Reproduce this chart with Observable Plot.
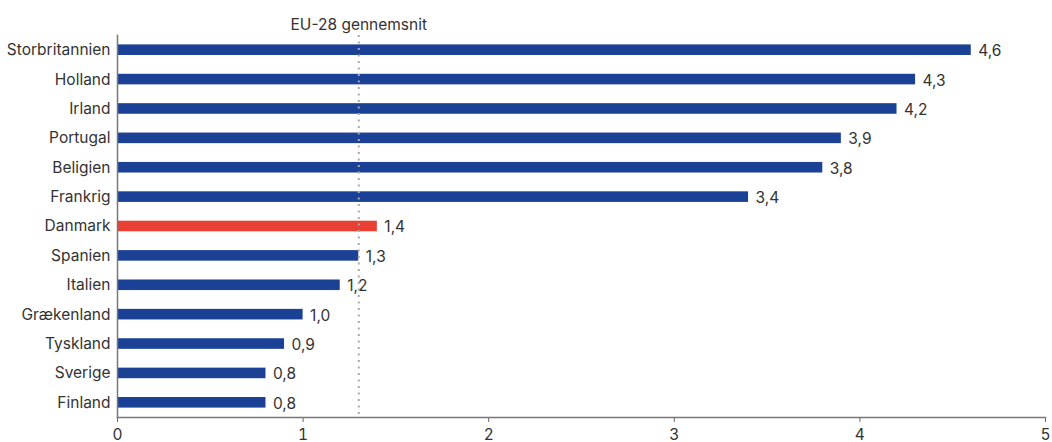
<!DOCTYPE html>
<html>
<head>
<meta charset="utf-8">
<script src="https://cdn.jsdelivr.net/npm/d3@7"></script>
<script src="https://cdn.jsdelivr.net/npm/@observablehq/plot@0.6"></script>
<style>
  body { margin: 0; background: #fff; }
  #chart svg { display: block; }
</style>
</head>
<body>
<div id="chart"></div>
<script>
const countries = ["Storbritannien","Holland","Irland","Portugal","Beligien","Frankrig","Danmark","Spanien","Italien","Grækenland","Tyskland","Sverige","Finland"];
const values = [4.6, 4.3, 4.2, 3.9, 3.8, 3.4, 1.4, 1.3, 1.2, 1.0, 0.9, 0.8, 0.8];
const highlight = "Danmark";
const euAverage = 1.3;
const euLabel = "EU-28 gennemsnit";
const xTicks = [0, 1, 2, 3, 4, 5];

const data = countries.map((c, i) => ({country: c, value: values[i]}));
const fmt = v => v.toFixed(1).replace(".", ",");
const font = "Inter, Roboto, sans-serif";
const fs = 15.5;

const chart = Plot.plot({
  width: 1052,
  height: 442,
  marginTop: 35,
  marginBottom: 25,
  marginLeft: 117,
  marginRight: 7,
  style: {fontFamily: font, fontSize: fs + "px", color: "#333", background: "#fff", overflow: "visible"},
  x: {domain: [0, 5], ticks: xTicks, label: null},
  y: {domain: countries, label: null, paddingInner: 0.64, paddingOuter: 0.32, round: false},
  marks: [
    Plot.barX(data, {x: "value", y: "country", fill: d => d.country === highlight ? "#e84133" : "#1a4196"}),
    Plot.text(data, {x: "value", y: "country", text: d => fmt(d.value), textAnchor: "start", dx: 7, dy: 1, fill: "#333", fontSize: fs}),
    Plot.ruleX([euAverage], {stroke: "#a8a8a8", strokeWidth: 2, strokeDasharray: "2,4.5"}),
    Plot.text([euLabel], {x: euAverage, frameAnchor: "top", dy: -17, text: d => d, textAnchor: "middle", fill: "#333", fontSize: fs}),
    Plot.axisX({ticks: xTicks, tickSize: 5, tickPadding: 6, tickFormat: d => String(d), stroke: "#666", fill: "#333", label: null, fontSize: fs}),
    Plot.axisY({tickSize: 0, tickPadding: 7, fill: "#333", label: null, fontSize: fs}),
    Plot.frame({anchor: "bottom", stroke: "#777", strokeWidth: 1.5}),
    Plot.frame({anchor: "left", stroke: "#777", strokeWidth: 1.5})
  ]
});
document.getElementById("chart").appendChild(chart);
</script>
</body>
</html>
